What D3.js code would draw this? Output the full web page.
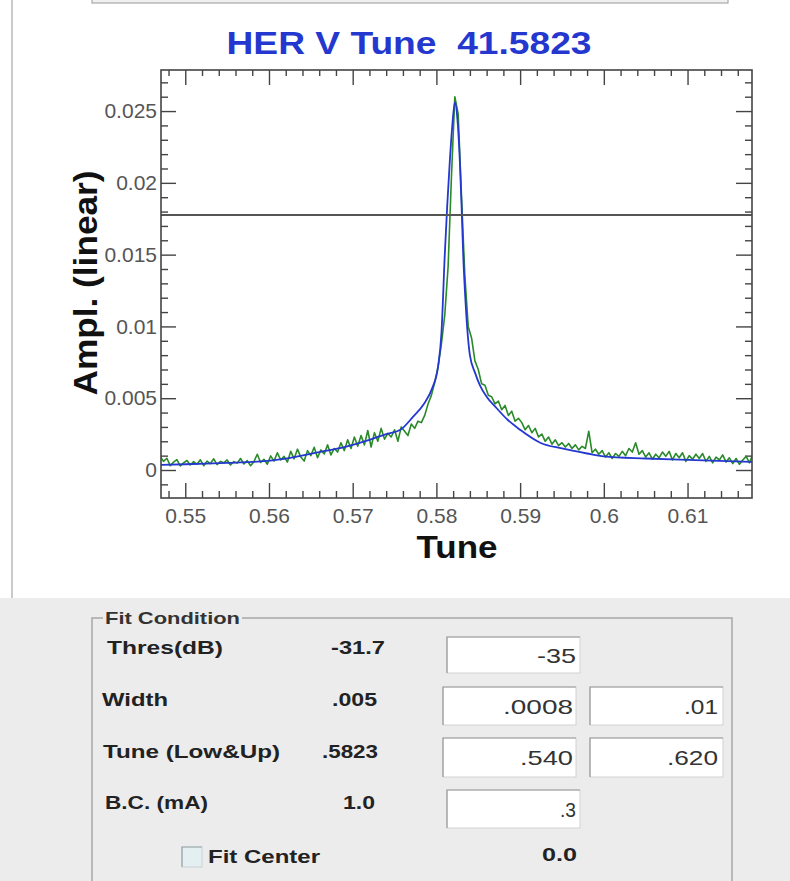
<!DOCTYPE html>
<html><head><meta charset="utf-8">
<script src="https://cdn.jsdelivr.net/npm/d3@7"></script>
<style>body{margin:0;background:#fff;}svg{display:block}text{white-space:pre}</style>
</head><body><svg id="c" width="790" height="881"></svg>
<script>
const chartTitle = "HER V Tune  41.5823";
const xLabel = "Tune";
const yLabel = "Ampl. (linear)";
const xDomain = [0.5471, 0.6177];
const yDomain = [-0.00195, 0.02786];
const xTicks = [0.55, 0.56, 0.57, 0.58, 0.59, 0.6, 0.61];
const xTickLabels = ["0.55", "0.56", "0.57", "0.58", "0.59", "0.6", "0.61"];
const yTicks = [0, 0.005, 0.01, 0.015, 0.02, 0.025];
const yTickLabels = ["0", "0.005", "0.01", "0.015", "0.02", "0.025"];
const threshold = 0.01776;

// measured spectrum (green), uniform tune grid
const tuneStart = 0.5470, tuneStep = 0.0004;
const measuredAmp = [
0.00095,0.00060,0.00082,0.00030,0.00055,0.00072,0.00028,0.00050,0.00066,0.00035,
0.00058,0.00040,0.00071,0.00030,0.00062,0.00045,0.00078,0.00038,0.00060,0.00050,
0.00070,0.00035,0.00058,0.00048,0.00080,0.00042,0.00065,0.00030,0.00058,0.00110,
0.00052,0.00075,0.00040,0.00098,0.00062,0.00120,0.00070,0.00095,0.00055,0.00130,
0.00078,0.00145,0.00090,0.00062,0.00135,0.00100,0.00158,0.00085,0.00140,0.00112,
0.00175,0.00105,0.00150,0.00125,0.00190,0.00135,0.00210,0.00150,0.00230,0.00165,
0.00240,0.00175,0.00275,0.00160,0.00260,0.00200,0.00290,0.00215,0.00255,0.00230,
0.00280,0.00200,0.00300,0.00270,0.00240,0.00320,0.00290,0.00340,0.00330,0.00380,
0.00460,0.00520,0.00610,0.00720,0.00880,0.01080,0.01420,0.02050,0.02600,0.02480,
0.01900,0.01350,0.01000,0.00920,0.00760,0.00700,0.00600,0.00590,0.00520,0.00510,
0.00460,0.00480,0.00420,0.00450,0.00380,0.00410,0.00340,0.00360,0.00330,0.00280,
0.00310,0.00260,0.00290,0.00230,0.00250,0.00200,0.00230,0.00180,0.00210,0.00170,
0.00190,0.00160,0.00185,0.00150,0.00175,0.00140,0.00165,0.00150,0.00270,0.00120,
0.00145,0.00110,0.00135,0.00090,0.00120,0.00080,0.00115,0.00095,0.00130,0.00100,
0.00150,0.00125,0.00190,0.00110,0.00135,0.00090,0.00120,0.00075,0.00110,0.00085,
0.00125,0.00095,0.00130,0.00070,0.00115,0.00085,0.00120,0.00060,0.00100,0.00075,
0.00110,0.00080,0.00115,0.00060,0.00095,0.00050,0.00090,0.00070,0.00105,0.00055,
0.00085,0.00045,0.00080,0.00040,0.00070,0.00095,0.00050,0.00110
];

// fitted curve (blue)
const fitTune = [0.5471,0.5500,0.5550,0.5580,0.5620,0.5660,0.5690,0.5720,0.5740,0.5757,
0.5772,0.5785,0.5795,0.5802,0.5806,0.5810,0.5813,0.5816,0.5819,0.5822,
0.5825,0.5828,0.5830,0.5832,0.5835,0.5840,0.5846,0.5852,0.5860,0.5872,
0.5885,0.5900,0.5924,0.5950,0.5980,0.6000,0.6050,0.6100,0.6177];
const fitAmp = [0.00035,0.00040,0.00050,0.00056,0.00080,0.00125,0.00160,0.00210,0.00250,0.00280,
0.00370,0.00460,0.00570,0.00720,0.00950,0.01500,0.01850,0.02150,0.02400,0.02560,
0.02450,0.02150,0.01850,0.01500,0.01150,0.00800,0.00680,0.00590,0.00510,0.00430,
0.00350,0.00280,0.00190,0.00150,0.00115,0.00095,0.00080,0.00070,0.00056];

const fitLabels = ["Thres(dB)", "Width", "Tune (Low&Up)", "B.C. (mA)"];
const fitValues = ["-31.7", ".005", ".5823", "1.0"];
const fieldLow = ["-35", ".0008", ".540", ".3"];
const fieldUp = [null, ".01", ".620", null];

const FONT = "'Liberation Sans', Arial, Helvetica, sans-serif";
const svg = d3.select("#c").style("font-family", FONT);

// backgrounds
svg.append("rect").attr("x",0).attr("y",0).attr("width",790).attr("height",881).attr("fill","#fff");
svg.append("rect").attr("x",0).attr("y",598).attr("width",790).attr("height",283).attr("fill","#ececec");
svg.append("line").attr("x1",12).attr("x2",12).attr("y1",0).attr("y2",598).attr("stroke","#b8b8b8").attr("stroke-width",1.5);
svg.append("rect").attr("x",92).attr("y",-6).attr("width",636).attr("height",9).attr("fill","#f0f0f0").attr("stroke","#a8a8a8").attr("stroke-width",1.2);

const L = 161, R = 752, T = 70, B = 498;
const x = d3.scaleLinear().domain(xDomain).range([L, R]);
const y = d3.scaleLinear().domain(yDomain).range([B, T]);

const xMinor = d3.range(0.548, 0.6177, 0.002).filter(v => !xTicks.some(t => Math.abs(t - v) < 1e-6));
const yMinor = d3.range(-0.001, 0.0278, 0.001).filter(v => !yTicks.some(t => Math.abs(t - v) < 1e-7));

function styleAxis(g){
  g.select(".domain").remove();
  g.selectAll(".tick line").attr("stroke","#444").attr("stroke-width",1.4);
  g.selectAll(".tick text").attr("fill","#555").attr("font-size",21).attr("font-family",FONT);
}
// major + minor axes on all four sides
svg.append("g").attr("transform",`translate(0,${B})`)
  .call(d3.axisBottom(x).tickValues(xTicks).tickSize(-15).tickPadding(10).tickFormat((d,i)=>xTickLabels[i])).call(styleAxis);
svg.append("g").attr("transform",`translate(0,${B})`)
  .call(d3.axisBottom(x).tickValues(xMinor).tickSize(-7).tickFormat("")).call(styleAxis);
svg.append("g").attr("transform",`translate(0,${T})`)
  .call(d3.axisTop(x).tickValues(xTicks).tickSize(-15).tickFormat("")).call(styleAxis);
svg.append("g").attr("transform",`translate(0,${T})`)
  .call(d3.axisTop(x).tickValues(xMinor).tickSize(-6).tickFormat("")).call(styleAxis);
svg.append("g").attr("transform",`translate(${L},0)`)
  .call(d3.axisLeft(y).tickValues(yTicks).tickSize(-15).tickPadding(4).tickFormat((d,i)=>yTickLabels[i])).call(styleAxis);
svg.append("g").attr("transform",`translate(${L},0)`)
  .call(d3.axisLeft(y).tickValues(yMinor).tickSize(-7).tickFormat("")).call(styleAxis);
svg.append("g").attr("transform",`translate(${R},0)`)
  .call(d3.axisRight(y).tickValues(yTicks).tickSize(-16).tickFormat("")).call(styleAxis);
svg.append("g").attr("transform",`translate(${R},0)`)
  .call(d3.axisRight(y).tickValues(yMinor).tickSize(-7).tickFormat("")).call(styleAxis);

// clip
svg.append("clipPath").attr("id","pc").append("rect").attr("x",L).attr("y",T).attr("width",R-L).attr("height",B-T);
const plot = svg.append("g").attr("clip-path","url(#pc)");

const measured = measuredAmp.map((a,i)=>({t: tuneStart + i*tuneStep, a}));
const fit = fitTune.map((t,i)=>({t, a: fitAmp[i]}));

plot.append("path").datum(measured)
  .attr("d", d3.line().x(d=>x(d.t)).y(d=>y(d.a)))
  .attr("fill","none").attr("stroke","#2a8a2a").attr("stroke-width",1.6).attr("stroke-linejoin","round");
plot.append("path").datum(fit)
  .attr("d", d3.line().curve(d3.curveMonotoneX).x(d=>x(d.t)).y(d=>y(d.a)))
  .attr("fill","none").attr("stroke","#2438d0").attr("stroke-width",1.8);

plot.append("line").attr("x1",L).attr("x2",R).attr("y1",y(threshold)).attr("y2",y(threshold))
  .attr("stroke","#555").attr("stroke-width",2);

svg.append("rect").attr("x",L).attr("y",T).attr("width",R-L).attr("height",B-T)
  .attr("fill","none").attr("stroke","#444").attr("stroke-width",1.6);

// titles
svg.append("text").attr("x",409).attr("y",54).attr("text-anchor","middle")
  .attr("font-size",32).attr("font-weight","bold").attr("fill","#2438d0")
  .attr("textLength",365).attr("lengthAdjust","spacingAndGlyphs").text(chartTitle);
svg.append("text").attr("x",457).attr("y",558).attr("text-anchor","middle")
  .attr("font-size",32).attr("font-weight","bold").attr("fill","#111")
  .attr("textLength",81).attr("lengthAdjust","spacingAndGlyphs").text(xLabel);
svg.append("text").attr("transform","translate(97,283) rotate(-90)").attr("text-anchor","middle")
  .attr("font-size",33).attr("font-weight","bold").attr("fill","#111")
  .attr("textLength",225).attr("lengthAdjust","spacingAndGlyphs").text(yLabel);

// Fit Condition panel
const gb = "#a6a6a6";
svg.append("path").attr("d","M92,881 V618 H103 M242,618 H732 V881").attr("fill","none").attr("stroke",gb).attr("stroke-width",1.5);
function txt(s, xx, yc, size, len, opts={}){
  const t = svg.append("text").attr("x",xx).attr("y",yc + size*0.36)
    .attr("font-size",size).attr("font-weight",opts.bold===false?"normal":"bold")
    .attr("fill",opts.fill||"#222").attr("text-anchor",opts.anchor||"start").text(s);
  if(len) t.attr("textLength",len).attr("lengthAdjust","spacingAndGlyphs");
  return t;
}
txt("Fit Condition",105,618,17,135,{fill:"#333"});
const rowY = [648,700,752,803];
const labelX = [107,102,103,105];
const labelLen = [116,66,177,103];
fitLabels.forEach((s,i)=>txt(s,labelX[i],rowY[i],18,labelLen[i]));
const valX = [331,332,322,343];
const valLen = [54,45,56,32];
fitValues.forEach((s,i)=>txt(s,valX[i],rowY[i],18,valLen[i]));

// text fields
const fieldRowY = [637,687,738,790];
const fieldRowH = [36,38,39,38];
const lowX = [447,443,443,447];
const lowEnd = [576,573,573,576];
const lowLen = [39,70,53,16];
const upLen = [null,34,51,null];
fieldLow.forEach((s,i)=>{
  const fy = fieldRowY[i], fh = fieldRowH[i];
  svg.append("rect").attr("x",lowX[i]).attr("y",fy).attr("width",133).attr("height",fh).attr("fill","#fff").attr("stroke","#d2d2d2");
  svg.append("path").attr("d",`M${lowX[i]},${fy+fh} V${fy} H${lowX[i]+133}`).attr("fill","none").attr("stroke","#9a9a9a").attr("stroke-width",1.2);
  txt(s, lowEnd[i]-lowLen[i], fy+fh/2, 21, lowLen[i], {bold:false, fill:"#333"});
  if(fieldUp[i]){
    svg.append("rect").attr("x",590).attr("y",fy).attr("width",133).attr("height",fh).attr("fill","#fff").attr("stroke","#d2d2d2");
    svg.append("path").attr("d",`M590,${fy+fh} V${fy} H723`).attr("fill","none").attr("stroke","#9a9a9a").attr("stroke-width",1.2);
    txt(fieldUp[i], 718-upLen[i], fy+fh/2, 21, upLen[i], {bold:false, fill:"#333"});
  }
});

// checkbox + Fit Center
svg.append("rect").attr("x",182).attr("y",847).attr("width",20).attr("height",20).attr("fill","#e3eff1").attr("stroke","#c8d4d6");
svg.append("path").attr("d","M182,867 V847 H202").attr("fill","none").attr("stroke","#9aa6a8").attr("stroke-width",1.2);
txt("Fit Center",208,857,18,112);
txt("0.0",542,855,18,35);
</script></body></html>
